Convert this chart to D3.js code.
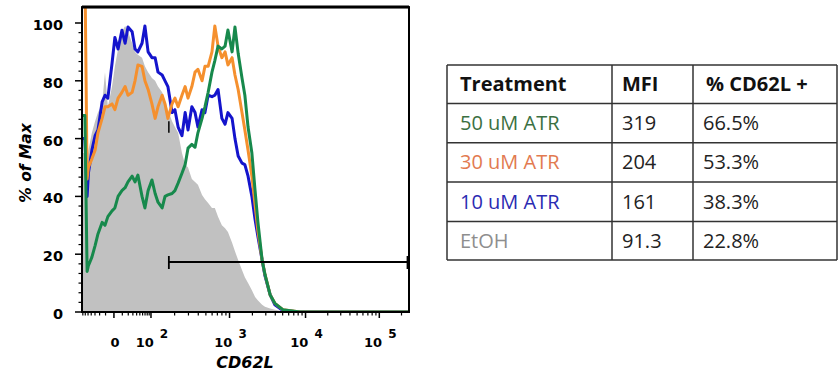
<!DOCTYPE html>
<html>
<head>
<meta charset="utf-8">
<script src="https://cdn.jsdelivr.net/npm/d3@7"></script>
<style>
  body { margin: 0; background: #fff; }
  svg { display: block; }
</style>
</head>
<body>
<svg id="chart" width="838" height="375"></svg>
<script>
// histogram bins, in display channels (0-1024 on the biexponential CD62L axis)
const binChannel = [0, 9, 16, 20, 31, 41, 50, 63, 72, 81, 94, 103, 113, 125, 135, 144, 157, 166, 175, 188,
  197, 207, 219, 229, 238, 251, 260, 269, 282, 291, 301, 313, 323, 332, 344, 354, 363, 376, 385, 395,
  407, 416, 426, 438, 448, 457, 470, 479, 489, 501, 510, 520, 532, 542, 551, 564, 573, 589, 604, 629, 683, 1024];

// % of max for each treatment
const etoh = [55, 55, 52, 56, 62, 66, 69, 72, 83, 71, 78, 85, 91, 97, 99, 97, 93, 90, 89, 88,
  85, 83, 81, 80, 78, 76, 73, 70, 66, 64, 62, 55, 51, 50, 46, 45, 44, 40.5, 39, 37.7,
  36, 36, 33, 30, 29, 27.7, 24, 21, 18, 14.5, 12, 10, 7.5, 5.2, 4, 2.5, 1.8, 1.2, 0.8, 0.3, 0, 0];
const atr10 = [60, 60, 40, 48, 56, 61, 63, 72.7, 75, 74, 86, 95, 91, 97.5, 93, 98.6, 97, 91, 90, 93,
  99, 90, 88, 88, 83, 82, 80, 78, 69, 70, 64, 61, 69, 63, 71, 69, 64, 70, 69, 75,
  74.5, 75, 77, 67, 65, 69, 67, 60, 54, 51.5, 51, 47, 40, 32, 26, 18, 12.5, 6, 2.5, 0.5, 0, 0];
const atr30 = [120, 120, 46, 50, 53, 56, 62, 67, 71, 71, 72, 70, 74, 76, 78, 75, 76, 80, 85.5, 85,
  80, 77, 72, 67, 71, 75, 72, 67, 72, 74, 71, 75, 78, 74, 78, 83, 84, 80, 85, 85,
  90, 99, 92, 88, 90, 85.5, 88, 82, 77, 69, 63, 56, 47, 37, 28, 18, 13, 6, 3, 0.8, 0, 0];
const atr50 = [68, 68, 14, 16, 19, 23, 27, 31, 30, 33, 35, 36, 40, 42, 43, 45, 47, 45, 47.4, 40,
  36, 42, 45.7, 41, 38, 36, 40, 40.5, 41, 42, 44.6, 48, 51, 56.7, 58, 57, 62, 67, 71, 76,
  83, 87, 92, 91, 92, 97.6, 90, 98.6, 89.5, 81, 75, 64, 55, 42, 31, 18, 13, 6, 3, 0.8, 0, 0];

const yTicks = [0, 20, 40, 60, 80, 100];
const xTickValues = [0, 1e2, 1e3, 1e4, 1e5];
const xTickChannel = [100, 216, 462, 700, 931];
const xTickBase = ['0', '10', '10', '10', '10'];
const xTickExp = ['', '2', '3', '4', '5'];

// CD62L+ gate
const gateFrom = 272;
const gateTo = 1024;
const gateLevel = 17.3;

const tableHeader = ['Treatment', 'MFI', '% CD62L +'];
const treatments = ['50 uM ATR', '30 uM ATR', '10 uM ATR', 'EtOH'];
const mfi = ['319', '204', '161', '91.3'];
const pctPositive = ['66.5%', '53.3%', '38.3%', '22.8%'];

const treatmentColors = ['#3b7042', '#e27a50', '#2b2bb2', '#8e8e8e'];
const lineColors = { atr10: '#1414cc', atr30: '#f5902e', atr50: '#17894c' };

const svg = d3.select('#chart');

const x = d3.scaleLinear().domain([0, 1024]).range([82, 409]);
const y = d3.scaleLinear().domain([0, 100]).range([312, 23]);
const yMax = 105.5;

// value -> display channel, used for the minor ticks of the biex axis
function toChannel(v) {
  const c0 = xTickChannel[0], c2 = xTickChannel[1];
  if (Math.abs(v) <= 100) {
    const t = Math.log10(1 + Math.abs(v) / 20) / Math.log10(6);
    return c0 + Math.sign(v) * t * (c2 - c0);
  }
  const k = Math.floor(Math.log10(v));
  const i = k - 2 + 1;
  const lo = xTickChannel[i];
  const hi = i + 1 < xTickChannel.length ? xTickChannel[i + 1] : lo + (lo - xTickChannel[i - 1]);
  return lo + (Math.log10(v) - k) * (hi - lo);
}

svg.append('defs').append('clipPath').attr('id', 'plot-clip')
  .append('rect')
  .attr('x', x(0)).attr('y', y(yMax))
  .attr('width', x(1024) - x(0)).attr('height', y(0) - y(yMax));

const plot = svg.append('g').attr('clip-path', 'url(#plot-clip)');

const area = d3.area()
  .x((d, i) => x(binChannel[i]))
  .y0(y(0))
  .y1(d => y(d));

plot.append('path')
  .datum(etoh)
  .attr('d', area)
  .style('fill', '#c1c1c1');

const line = d3.line()
  .x((d, i) => x(binChannel[i]))
  .y(d => y(d));

[['atr10', atr10], ['atr30', atr30], ['atr50', atr50]].forEach(([key, values]) => {
  plot.append('path')
    .datum(values)
    .attr('d', line)
    .style('fill', 'none')
    .style('stroke', lineColors[key])
    .style('stroke-width', 3)
    .style('stroke-linejoin', 'round');
});

// frame
svg.append('rect')
  .attr('x', x(0)).attr('y', y(yMax))
  .attr('width', x(1024) - x(0)).attr('height', y(0) - y(yMax))
  .style('fill', 'none')
  .style('stroke', '#000')
  .style('stroke-width', 2);
svg.append('line')
  .attr('x1', x(0)).attr('x2', x(1024))
  .attr('y1', y(yMax)).attr('y2', y(yMax))
  .style('stroke', '#000').style('stroke-width', 3);

// y axis
const yMinor = d3.range(0, 100.01, 20 / 6).filter(v => !yTicks.some(t => Math.abs(t - v) < 0.01));
const yAxis = svg.append('g');
yAxis.selectAll('.ymajor').data(yTicks).enter().append('line')
  .attr('x1', x(0) - 7).attr('x2', x(0))
  .attr('y1', d => y(d)).attr('y2', d => y(d))
  .style('stroke', '#000').style('stroke-width', 1.5);
yAxis.selectAll('.yminor').data(yMinor).enter().append('line')
  .attr('x1', x(0) - 3.5).attr('x2', x(0))
  .attr('y1', d => y(d)).attr('y2', d => y(d))
  .style('stroke', '#000').style('stroke-width', 1.2);
yAxis.selectAll('text').data(yTicks).enter().append('text')
  .attr('x', 63)
  .attr('y', d => y(d) + 7)
  .attr('text-anchor', 'end')
  .style('font-family', 'DejaVu Sans')
  .style('font-weight', 'bold')
  .style('font-size', '14.5px')
  .text(d => d);

svg.append('text')
  .attr('transform', 'translate(31,163) rotate(-90)')
  .attr('text-anchor', 'middle')
  .style('font-family', 'DejaVu Sans')
  .style('font-weight', 'bold')
  .style('font-style', 'italic')
  .style('font-size', '15.5px')
  .text('% of Max');

// x axis
const xMinorValues = [].concat(
  d3.range(-70, 0, 10), d3.range(10, 100, 10),
  d3.range(200, 1000, 100), d3.range(2000, 10000, 1000), d3.range(2e4, 1e5, 1e4), [2e5]
);
const xAxis = svg.append('g');
xAxis.selectAll('.xmajor').data(xTickChannel).enter().append('line')
  .attr('x1', d => x(d)).attr('x2', d => x(d))
  .attr('y1', y(0)).attr('y2', y(0) + 6)
  .style('stroke', '#000').style('stroke-width', 1.5);
xAxis.selectAll('.xminor').data(xMinorValues.map(toChannel)).enter().append('line')
  .attr('x1', d => x(d)).attr('x2', d => x(d))
  .attr('y1', y(0)).attr('y2', y(0) + 3.5)
  .style('stroke', '#000').style('stroke-width', 1.2);

const xLabels = xAxis.selectAll('.xlabel').data(xTickValues).enter().append('text')
  .attr('x', (d, i) => x(xTickChannel[i]) + 1)
  .attr('y', 347)
  .attr('text-anchor', 'middle')
  .style('font-family', 'DejaVu Sans')
  .style('font-weight', 'bold')
  .style('font-size', '13px');
xLabels.append('tspan').text((d, i) => xTickBase[i]);
xLabels.append('tspan')
  .attr('dx', (d, i) => xTickExp[i] ? 6 : 0)
  .attr('dy', (d, i) => xTickExp[i] ? -9 : 0)
  .style('font-size', '12px')
  .text((d, i) => xTickExp[i]);

svg.append('text')
  .attr('x', 245).attr('y', 368)
  .attr('text-anchor', 'middle')
  .style('font-family', 'DejaVu Sans')
  .style('font-weight', 'bold')
  .style('font-style', 'italic')
  .style('font-size', '16px')
  .text('CD62L');

// gate
const gate = svg.append('g').style('stroke', '#000');
gate.append('line')
  .attr('x1', x(gateFrom)).attr('x2', x(gateTo) - 1)
  .attr('y1', y(gateLevel)).attr('y2', y(gateLevel))
  .style('stroke-width', 2.2);
[gateFrom, gateTo].forEach(c => {
  gate.append('line')
    .attr('x1', x(c) - (c === gateTo ? 1.5 : 0)).attr('x2', x(c) - (c === gateTo ? 1.5 : 0))
    .attr('y1', y(gateLevel) - 6).attr('y2', y(gateLevel) + 7)
    .style('stroke-width', 1.8);
});
gate.append('line')
  .attr('x1', x(gateFrom)).attr('x2', x(gateFrom))
  .attr('y1', y(66)).attr('y2', y(62))
  .style('stroke-width', 1.5);

// results table
const colX = [447, 612, 693, 837];
const rowY = [65, 103.5, 142.7, 182, 221.5, 260];
const table = svg.append('g');

rowY.forEach(r => {
  table.append('line')
    .attr('x1', colX[0]).attr('x2', colX[3])
    .attr('y1', r).attr('y2', r)
    .style('stroke', '#333').style('stroke-width', 1.5);
});
colX.forEach(c => {
  table.append('line')
    .attr('x1', c).attr('x2', c)
    .attr('y1', rowY[0]).attr('y2', rowY[5])
    .style('stroke', '#333').style('stroke-width', 1.5);
});

const textFont = 'Open Sans';
tableHeader.forEach((h, j) => {
  table.append('text')
    .attr('x', colX[j] + 13 - (j === 1 ? 3 : 0))
    .attr('y', (rowY[0] + rowY[1]) / 2 + 7)
    .style('font-family', textFont)
    .style('font-weight', 'bold')
    .style('font-size', '20px')
    .style('fill', '#111')
    .text(h);
});

treatments.forEach((t, i) => {
  const cy = (rowY[i + 1] + rowY[i + 2]) / 2 + 7;
  table.append('text')
    .attr('x', colX[0] + 13).attr('y', cy)
    .style('font-family', textFont).style('font-size', '20px')
    .style('fill', treatmentColors[i])
    .text(t);
  table.append('text')
    .attr('x', colX[1] + 10).attr('y', cy)
    .style('font-family', textFont).style('font-size', '20px')
    .style('fill', '#222')
    .text(mfi[i]);
  table.append('text')
    .attr('x', colX[2] + 10).attr('y', cy)
    .style('font-family', textFont).style('font-size', '20px')
    .style('fill', '#222')
    .text(pctPositive[i]);
});
</script>
</body>
</html>
